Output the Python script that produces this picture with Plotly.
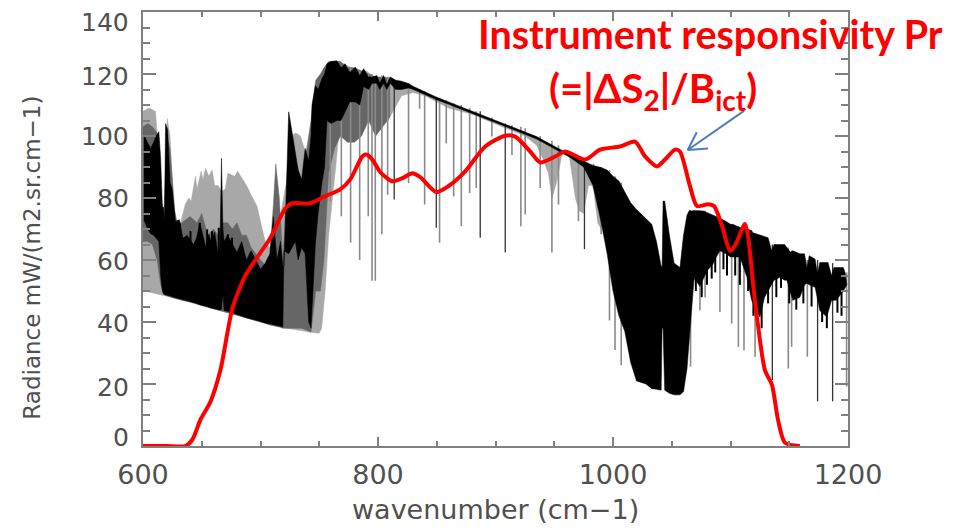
import plotly.graph_objects as go

# ---------- data ----------
light_wn = [600,605,610.6,612,616,618,620.6,623,626,629,
            632,636,639,641,644.6,646,649.5,651,653.2,656,
            658.8,661,664,667,670,672.2,675,678,680.6,684,
            688.6,692,697,700.5,704,708,715,722,726,730,
            734,738,742,746,750,752,755,758,761,764,
            768,772,778,784,790,797,803,810,820,830,
            840,860,880,900,925,935,940,945,948,952,
            957,963,968,971,975,979,983,987,990]
light_top = [108,109,108,101,76,70,105.6,100,76,71,
             72,78,80,79,87,83,88.6,86,89.6,87,
             89,84,84,82,83,88,87.5,87,88.6,86.5,
             83.7,81,77.4,71.5,66,64,70,85,100,101,
             100,95,95,100,110,115,118,120,123,124,
             124,123,122,121,121,119,119,119,117,116,
             114,110,108,105,101,99.5,98,97,96,96,
             95,94,93,92,91,91,90,90,89]
light_low = [50,49.7,49.3,49,48.7,48.5,48.3,48,47.8,47.4,
             47.2,46.8,46.5,46.3,46,45.8,45.5,45.3,45,44.7,
             44.4,44.1,43.8,43.4,43.2,43,42.7,42.3,42.1,41.7,
             41.2,40.8,40.3,40,39.6,39.2,38.5,38,37.8,37.5,
             37.2,37,36.7,36.5,36.4,38,50,68,78,90,
             106,101,100,105,113,112,108,106,113,114,
             113,109,107,104,100,97,93,88,80,85,
             95,93,80,76,75,84,84,72,70]

mid_wn = [600,604,608,612,615,618,620,623,627,630,
          633,640,646,650,655,660,664,668,672,676,
          680,684,688,692,696,700,705,708,711,713,
          716,719,722,726,731,735,739,743,747,751,
          754,758,763,768,774,780,786,792,798,804,810]
mid_top = [103,104,103,101,80,75,100,96,76,70,
           72,74,72,75,68,70,68,72,72,70,
           72,68,68,64,62,60,58,62,78,91,
           80,60,80,98,91,85,95,105,118,120,
           122,124,124,124,122,122,121,120,119,119,118.5]
mid_low = [66,66,65,60,52,49,48.5,48,47.6,47.3,
           47,46.5,45.8,45.3,44.6,44.2,43.7,43.5,43,42.6,
           42.2,41.7,41.2,40.8,40.3,40,39.4,39,38.8,38.6,
           38.4,38,38,38,38,38,37.5,36.8,50,50,
           60,88,96,100,98,98,100,105,100,103,106]

black_wn = [600.7,604,606.5,609,611,613.5,615,616.5,617.5,618.3,
            619.2,621,623,624.8,627.6,631,634,637.5,641,643,
            645.5,648.3,651,653.5,656,658,661,663.5,665.5,666.8,
            668,669,672,676,680,684,688,692,696,700,
            704,708,711,714,717,719,720,724,727,729.7,
            732,735,738,741,743,743.8,746.7,749,752.3,754.5,
            756.6,760,765,768.5,772,776,780.7,784.5,787.8,792,
            795,799,801.5,804.8,807.5,810.4,815,820,826,830,
            850,880,907,935,963,975,983,990,995,1000,
            1005,1010,1015,1020,1028,1033,1037,1041,1041.8,1042.6,
            1044,1048,1052,1057,1060,1063,1065,1067,1069,1074,
            1077,1080,1085,1088,1091,1096,1100,1102,1108,1114,
            1118,1119,1125,1129,1132,1135,1137,1142,1146,1148,
            1151,1153,1159,1163,1165,1167,1172,1174,1176,1182,
            1183,1186,1188,1190,1196,1197.5,1199]
black_top = [100.3,98,96,98,100,101.4,92.8,77,77,72,
             104,102,85,83,72.5,73,67,68,66,65,
             67,72,68,64,68.3,66,69,63,64,92.8,
             70,66,68,65,62.5,66,60,63,60,57,
             59,62,74,60,66,58,58,107.8,101,95,
             89,86,96,92,100,110,116.3,115,118.5,120,
             123.3,124,124.3,122,123.3,120.5,122.2,119.5,121.7,119,
             119,119.5,117,119.5,116.5,119,118,117.7,116.9,116,
             112.5,108,104,99.8,94,92,90.5,89.8,89,87,
             85.5,82,78.5,76.3,73.5,71.5,66,58,58,79,
             79,68,59,57.6,68,74.5,76,75.8,76,76,
             75.8,75.3,74.5,74.2,73.5,72.5,71.5,71.5,70.5,70,
             69.5,68.8,68,67.5,67.2,63,65,65,65,64,
             62.5,63,62,62,57.5,61.4,60.3,55.5,59.2,59.2,
             59.2,55,57.6,57.6,57.6,56,52.3]
black_low = [73,70,68.5,68,67,66,55,50,49,49,
             48.7,48.6,48.4,48.2,47.8,47.5,47.2,46.9,46.5,46.3,
             46,45.6,45.3,45,44.8,44.5,44.2,44,43.9,44,
             49,43.7,43.4,43,42.6,42,41.4,41,40.5,40.2,
             39.7,39.4,39,38.8,38.6,38.4,63,62,64,66,
             60,64,62,40,38,40,65,75,85,90,
             105,104,105,105,108,111,111,110,116,115,
             117,117,115,117,115,117,115,115,115.5,115,
             111.7,107.3,103.3,99,93.2,90,84,72,62,50,
             42,37,27,21,20,18.5,18.3,18,38,38,
             18,17,16.5,16.5,17.5,25,35,45,54,51.5,
             54,56.5,58.6,61,63,62,61,61,61,54.4,
             47,46,41.6,48,50,52,53.5,54.4,53.5,53.5,
             50,47,48,52,52.5,52,51.2,48,43.7,41.6,
             43,47,47,47,50,51,52]

# absorption dips: wavenumber, upper end, lower end
grey_line_wn = [759.4,768.8,776.7,784.4,791.7,797.7,794.9,803.3,808.2,826,835.4,839.7,852.4,858.1,864.4,870.9,878,883.6,896.9,914,921.6,925.3,938,948,953.6,970.6,983.4,989.9,997,1001.7,1007,1066,1074,1078.4,1091,1101,1106.7,1111.5,1120.9,1149.2,1152,1165.4,1198.8]
grey_line_top = [124,122,122,121,120,119,120,119.5,119,117,115,114.5,112.3,111.5,110.5,110,109,108,106,103.5,103,102.5,100,98.5,97,92,91,90,89,87,85,76,76,76,73,71.5,71,71,67,64,63,60,56]
grey_line_low = [79,74.1,65.6,60,74.1,53.3,53.3,68.3,81,84.8,108.8,77.9,65.6,97.6,80.5,70.9,81.6,83.2,99.8,93.9,70.9,74.7,83.2,62.4,77.9,72.5,83.2,68.3,40.5,31,26,25.6,43.8,48,43.2,39.5,32,30.9,28.8,25,32,28.8,19.2]
dark_line_wn = [813.8,849.6,887,908.3,975.7,1135.6,1174.1,1186.9]
dark_line_top = [118,112.5,108,104,92,65,60,59]
dark_line_low = [79.5,70.4,67.2,62.4,63.5,21.3,14.4,14.4]
# short black spikes that roughen the edges of the dense band
hair_wn = [631.3,640.4,648.3,654.6,658.8,664.5,672.2,675.8,1070.5,1075.5,1080,1084,1087,1094,1097,1104,1108,1115,1119.5,1126.5,1132,1139,1143,1150,1156,1162,1169,1178,1182,1191,1194.5]
hair_top = [60,60,60,60,60,60,60,60,70,70,70,70,70,68,68,68,68,66,66,64,64,62,62,60,60,58,58,56,56,55,55]
hair_low = [72,69.3,72,69.9,69.3,70.4,68.3,67.2,50,48,52,54,56,57,55,55,52,50,42,38,46,48,51,46,44,46,45,40,38,43,42]

resp_wn = [600,620,636.1,642.1,648.9,657.4,665.9,676.1,687.2,698.2,708.4,721.2,727.1,742.4,755.2,767.9,776.4,786.6,790,795.2,802,812.1,820.7,829.2,836,849.6,859.8,874.2,891.2,908.3,916.8,929.5,938,950.8,959.3,976.3,989,1006,1018.8,1027.3,1037.5,1044.3,1052.8,1057,1065.5,1071.5,1080.9,1086,1092.8,1099.6,1103.8,1112.3,1114.9,1120.8,1129.3,1135.3,1140.4,1146.3,1159]
resp_val = [0,0,0,2.1,8.5,14.3,24.5,44.4,55,61.4,67.1,76.7,78.3,78.3,80.6,82.8,86,93.4,94,92.4,88.3,85.4,86.4,88,86.7,81.9,83.8,88.6,96.6,100.1,99.8,95,91.5,93.4,95,92.4,95.6,96.6,98.2,93.4,90.2,92.4,95.6,95,83.8,77.4,78,77.4,71,63,64.6,71.6,67.8,46.9,24.5,19.7,8.5,1.1,0]

y_tick_labels = ["140","120","100","80","60","40","20","0"]
y_label_pos = [136.7,119.3,99.8,80,59.4,39.6,19,2.7]
arrow_shaft_wn = [1111.5,1063.6]
arrow_shaft_rad = [108.1,95.5]
arrow_head_wn = [1071.3,1063.6,1080.9]
arrow_head_rad = [101.2,95.5,96]

assert len(light_wn) == len(light_top) == len(light_low)
assert len(mid_wn) == len(mid_top) == len(mid_low)
assert len(black_wn) == len(black_top) == len(black_low)
assert len(grey_line_wn) == len(grey_line_top) == len(grey_line_low)
assert len(hair_wn) == len(hair_top) == len(hair_low)
assert len(resp_wn) == len(resp_val)

AXIS = "#808080"
TXT = "#505050"
FONT = "DejaVu Sans"

fig = go.Figure()


def band(x, top, low, color):
    fig.add_trace(go.Scatter(x=list(x) + list(x)[::-1], y=list(top) + list(low)[::-1],
                             mode="lines", fill="toself", fillcolor=color,
                             line=dict(color=color, width=0.5), hoverinfo="skip", showlegend=False))


def lines(x, top, low, color, width):
    xs, ys = [], []
    for a, t, b in zip(x, top, low):
        xs += [a, a, None]
        ys += [t, b, None]
    fig.add_trace(go.Scatter(x=xs, y=ys, mode="lines", line=dict(color=color, width=width),
                             hoverinfo="skip", showlegend=False))


band(light_wn, light_top, light_low, "#a8a8a8")
band(mid_wn, mid_top, mid_low, "#666666")
lines(grey_line_wn, grey_line_top, grey_line_low, "#8a8a8a", 1.6)
lines(dark_line_wn, dark_line_top, dark_line_low, "#333333", 1.3)
band(black_wn, black_top, black_low, "#000000")
lines(hair_wn, hair_top, hair_low, "#000000", 2)
fig.add_trace(go.Scatter(x=resp_wn, y=resp_val, mode="lines",
                         line=dict(color="#ff0000", width=4, shape="spline", smoothing=0.7),
                         hoverinfo="skip", showlegend=False))
for ax, ay in ((arrow_shaft_wn, arrow_shaft_rad), (arrow_head_wn, arrow_head_rad)):
    fig.add_trace(go.Scatter(x=ax, y=ay, mode="lines", line=dict(color="#4a7ebb", width=2),
                             hoverinfo="skip", showlegend=False))

annotations = [dict(text=t, x=0, xref="paper", y=v, yref="y", xanchor="right", yanchor="middle",
                    xshift=-12, showarrow=False, font=dict(family=FONT, size=25, color=TXT))
               for t, v in zip(y_tick_labels, y_label_pos)]
annotations += [
    dict(text="<b>Instrument responsivity Pr</b>", x=0.805, y=0.95, xref="paper", yref="paper",
         xanchor="center", yanchor="middle", showarrow=False,
         font=dict(family="Lato", size=39.5, color="#ff0000")),
    dict(text="<b>(=|ΔS<sub>2</sub>|/B<sub>ict</sub>)</b>", x=0.724, y=0.82, xref="paper", yref="paper",
         xanchor="center", yanchor="middle", showarrow=False,
         font=dict(family="Lato", size=40, color="#ff0000")),
    dict(text="Radiance mW/(m2.sr.cm−1)", x=0, y=0.434, xref="paper", yref="paper", xshift=-126, textangle=-90,
         showarrow=False, font=dict(family=FONT, size=23, color=TXT)),
    dict(text="wavenumber (cm−1)", x=0.5, y=-0.146, xref="paper", yref="paper", yanchor="middle",
         showarrow=False, font=dict(family=FONT, size=27, color=TXT)),
]

fig.update_layout(
    width=959, height=528, autosize=False,
    margin=dict(l=142.5, r=111, t=9.5, b=81.5),
    paper_bgcolor="white", plot_bgcolor="white", showlegend=False,
    annotations=annotations,
    xaxis=dict(range=[600, 1200], tickvals=[600, 800, 1000, 1200], ticks="inside", ticklen=9, tickwidth=2,
               tickcolor=AXIS, showline=True, linewidth=2, linecolor=AXIS, mirror="ticks", showgrid=False,
               zeroline=False, ticklabelstandoff=4, tickfont=dict(family=FONT, size=27, color=TXT),
               minor=dict(dtick=50, ticks="inside", ticklen=5, tickwidth=2, tickcolor=AXIS, showgrid=False)),
    yaxis=dict(range=[0, 140], dtick=20, ticks="inside", ticklen=13, tickwidth=2, tickcolor=AXIS,
               showline=True, linewidth=2, linecolor=AXIS, mirror="ticks", showgrid=False, zeroline=False,
               showticklabels=False,
               minor=dict(dtick=5, ticks="inside", ticklen=7, tickwidth=2, tickcolor=AXIS, showgrid=False)),
)
fig.write_html("out.html", post_script="document.body.style.margin='0';", config={"displayModeBar": False})
